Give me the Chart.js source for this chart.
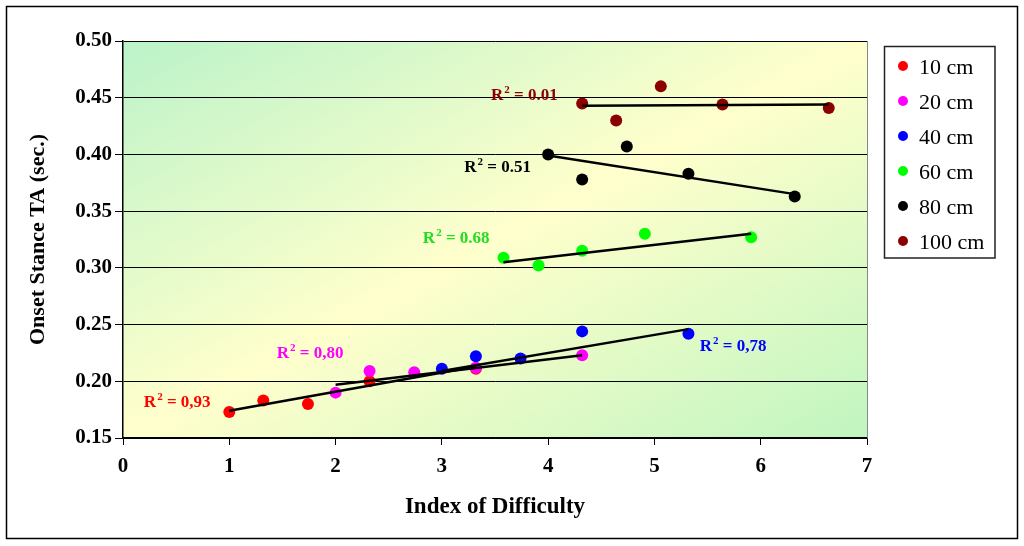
<!DOCTYPE html>
<html>
<head>
<meta charset="utf-8">
<script src="https://cdn.jsdelivr.net/npm/chart.js@4.4.1/dist/chart.umd.min.js"></script>
<style>
    html, body { margin: 0; padding: 0; background: #fff; }
</style>
</head>
<body>
<canvas id="myChart" width="1024" height="546"></canvas>
<script>
// Values
const seriesLabels = ['10 cm', '20 cm', '40 cm', '60 cm', '80 cm', '100 cm'];
const seriesColors = ['#ff0000', '#ff00ff', '#0000ff', '#00ff00', '#000000', '#8b0000'];
const r2Values = ['0,93', '0,80', '0,78', '0.68', '0.51', '0.01'];

const id10 = [1.00, 1.32, 1.74, 2.32, 3.32];
const ta10 = [0.173, 0.183, 0.180, 0.200, 0.211];
const id20 = [2.00, 2.32, 2.74, 3.32, 4.32];
const ta20 = [0.190, 0.209, 0.208, 0.212, 0.223];
const id40 = [3.00, 3.32, 3.74, 4.32, 5.32];
const ta40 = [0.211, 0.222, 0.220, 0.244, 0.242];
const id60 = [3.58, 3.91, 4.32, 4.91, 5.91];
const ta60 = [0.309, 0.302, 0.315, 0.330, 0.327];
const id80 = [4.00, 4.32, 4.74, 5.32, 6.32];
const ta80 = [0.400, 0.378, 0.407, 0.383, 0.363];
const id100 = [4.32, 4.64, 5.06, 5.64, 6.64];
const ta100 = [0.445, 0.430, 0.460, 0.444, 0.441];

// Linear trendline ends as drawn (start, end)
const trendX = [[1.00, 3.32], [2.00, 4.32], [3.00, 5.32], [3.58, 5.91], [4.00, 6.32], [4.32, 6.64]];
const trendY = [[0.174, 0.213], [0.197, 0.223], [0.209, 0.246], [0.305, 0.330], [0.399, 0.365], [0.443, 0.444]];

const xMin = 0, xMax = 7, xStep = 1;
const yMin = 0.15, yMax = 0.50, yStep = 0.05;

const idLists = [id10, id20, id40, id60, id80, id100];
const taLists = [ta10, ta20, ta40, ta60, ta80, ta100];

const serif = '"Liberation Serif", "Times New Roman", serif';

// where the R² notes sit (data coords of text centre) and their colours
const r2Spots = [[0.51, 0.183], [1.76, 0.2256], [5.74, 0.2318], [3.135, 0.3271], [3.525, 0.3897], [3.776, 0.4532]];
const r2Colors = ['#ff0000', '#ff00ff', '#0000ff', '#22dd22', '#000000', '#8b0000'];

const pointSets = seriesLabels.map((name, i) => ({
    type: 'scatter',
    label: name,
    data: idLists[i].map((x, k) => ({ x: x, y: taLists[i][k] })),
    backgroundColor: seriesColors[i],
    borderColor: seriesColors[i],
    borderWidth: 0,
    pointRadius: 6,
    pointHoverRadius: 6,
    order: 20 - i
}));

const trendSets = trendX.map((xs, i) => ({
    type: 'line',
    label: 'trend ' + seriesLabels[i],
    data: xs.map((x, k) => ({ x: x, y: trendY[i][k] })),
    borderColor: '#000',
    borderWidth: 2.5,
    pointRadius: 0,
    fill: false,
    order: 0
}));

// Plot area gradient, drawn under everything
const plotBackground = {
    id: 'plotBackground',
    beforeDraw(chart) {
        const { ctx, chartArea: a } = chart;
        const w = a.right - a.left, h = a.bottom - a.top;
        const cx = a.left + w / 2, cy = a.top + h / 2;
        const k = (w * h) / (w * w + h * h);
        const g = ctx.createLinearGradient(cx - h * k, cy - w * k, cx + h * k, cy + w * k);
        g.addColorStop(0, '#bbf3c9');
        g.addColorStop(0.5, '#ffffcc');
        g.addColorStop(1, '#c0f5c0');
        ctx.save();
        ctx.fillStyle = '#fff';
        ctx.fillRect(0, 0, chart.width, chart.height);
        ctx.fillStyle = g;
        ctx.fillRect(a.left, a.top, w, h);
        ctx.restore();
    }
};

function drawR2(ctx, cx, cy, value, color) {
    const big = 'bold 17px ' + serif;
    const small = 'bold 11px ' + serif;
    const rest = ' = ' + value;
    ctx.font = big;
    const wR = ctx.measureText('R').width;
    const wRest = ctx.measureText(rest).width;
    ctx.font = small;
    const w2 = ctx.measureText('2').width + 1;
    let x = cx - (wR + w2 + wRest) / 2;
    const base = cy + 6;
    ctx.fillStyle = color;
    ctx.textBaseline = 'alphabetic';
    ctx.textAlign = 'left';
    ctx.font = big;
    ctx.fillText('R', x, base);
    x += wR;
    ctx.font = small;
    ctx.fillText('2', x + 1, base - 7);
    x += w2;
    ctx.font = big;
    ctx.fillText(rest, x, base);
}

// Frame, plot border, R² notes and legend box
const decorations = {
    id: 'decorations',
    afterDraw(chart) {
        const { ctx, chartArea: a, scales } = chart;
        ctx.save();

        ctx.strokeStyle = '#888';
        ctx.lineWidth = 1;
        ctx.beginPath();
        ctx.moveTo(a.right + 0.5, a.top);
        ctx.lineTo(a.right + 0.5, a.bottom);
        ctx.stroke();

        r2Spots.forEach((p, i) => {
            drawR2(ctx, scales.x.getPixelForValue(p[0]), scales.y.getPixelForValue(p[1]), r2Values[i], r2Colors[i]);
        });

        // legend
        ctx.strokeStyle = '#222';
        ctx.lineWidth = 1.5;
        ctx.strokeRect(884.5, 46.5, 110.5, 211.5);
        ctx.font = '22px ' + serif;
        ctx.textBaseline = 'middle';
        ctx.textAlign = 'left';
        seriesLabels.forEach((name, i) => {
            const y = 67 + i * 35;
            ctx.fillStyle = seriesColors[i];
            ctx.beginPath();
            ctx.arc(903, y - 1, 5, 0, Math.PI * 2);
            ctx.fill();
            ctx.fillStyle = '#000';
            ctx.fillText(name, 919, y + 1);
        });

        // outer frame
        ctx.strokeStyle = '#000';
        ctx.lineWidth = 1.5;
        ctx.strokeRect(6.5, 6.5, 1011, 532);
        ctx.restore();
    }
};

document.addEventListener('DOMContentLoaded', () => {
    const ctx = document.getElementById('myChart').getContext('2d');
    new Chart(ctx, {
        type: 'scatter',
        data: { datasets: [...trendSets, ...pointSets] },
        options: {
            responsive: false,
            animation: false,
            devicePixelRatio: 1,
            layout: { padding: { top: 41, right: 157, bottom: 0, left: 0 } },
            plugins: {
                legend: { display: false },
                tooltip: { enabled: false }
            },
            scales: {
                x: {
                    type: 'linear',
                    min: xMin,
                    max: xMax,
                    ticks: {
                        stepSize: xStep,
                        color: '#000',
                        padding: 9,
                        font: { family: serif, size: 21, weight: 'bold' }
                    },
                    grid: { drawOnChartArea: false, color: '#000', tickLength: 7 },
                    border: { color: '#000', width: 1.5 },
                    title: {
                        display: true,
                        text: 'Index of Difficulty',
                        color: '#000',
                        font: { family: serif, size: 23, weight: 'bold' },
                        padding: { top: 0, bottom: 25 }
                    },
                    afterFit: (s) => { s.height = 108; }
                },
                y: {
                    type: 'linear',
                    min: yMin,
                    max: yMax,
                    ticks: {
                        stepSize: yStep,
                        color: '#000',
                        padding: 3,
                        font: { family: serif, size: 21, weight: 'bold' },
                        callback: (v) => v.toFixed(2)
                    },
                    grid: { color: '#000', tickLength: 8 },
                    border: { color: '#000', width: 1.5 },
                    title: {
                        display: true,
                        text: 'Onset Stance TA (sec.)',
                        color: '#000',
                        font: { family: serif, size: 22, weight: 'bold' },
                        padding: { top: 25, bottom: 0 }
                    },
                    afterFit: (s) => { s.width = 123; }
                }
            }
        },
        plugins: [plotBackground, decorations]
    });
});
</script>
</body>
</html>
